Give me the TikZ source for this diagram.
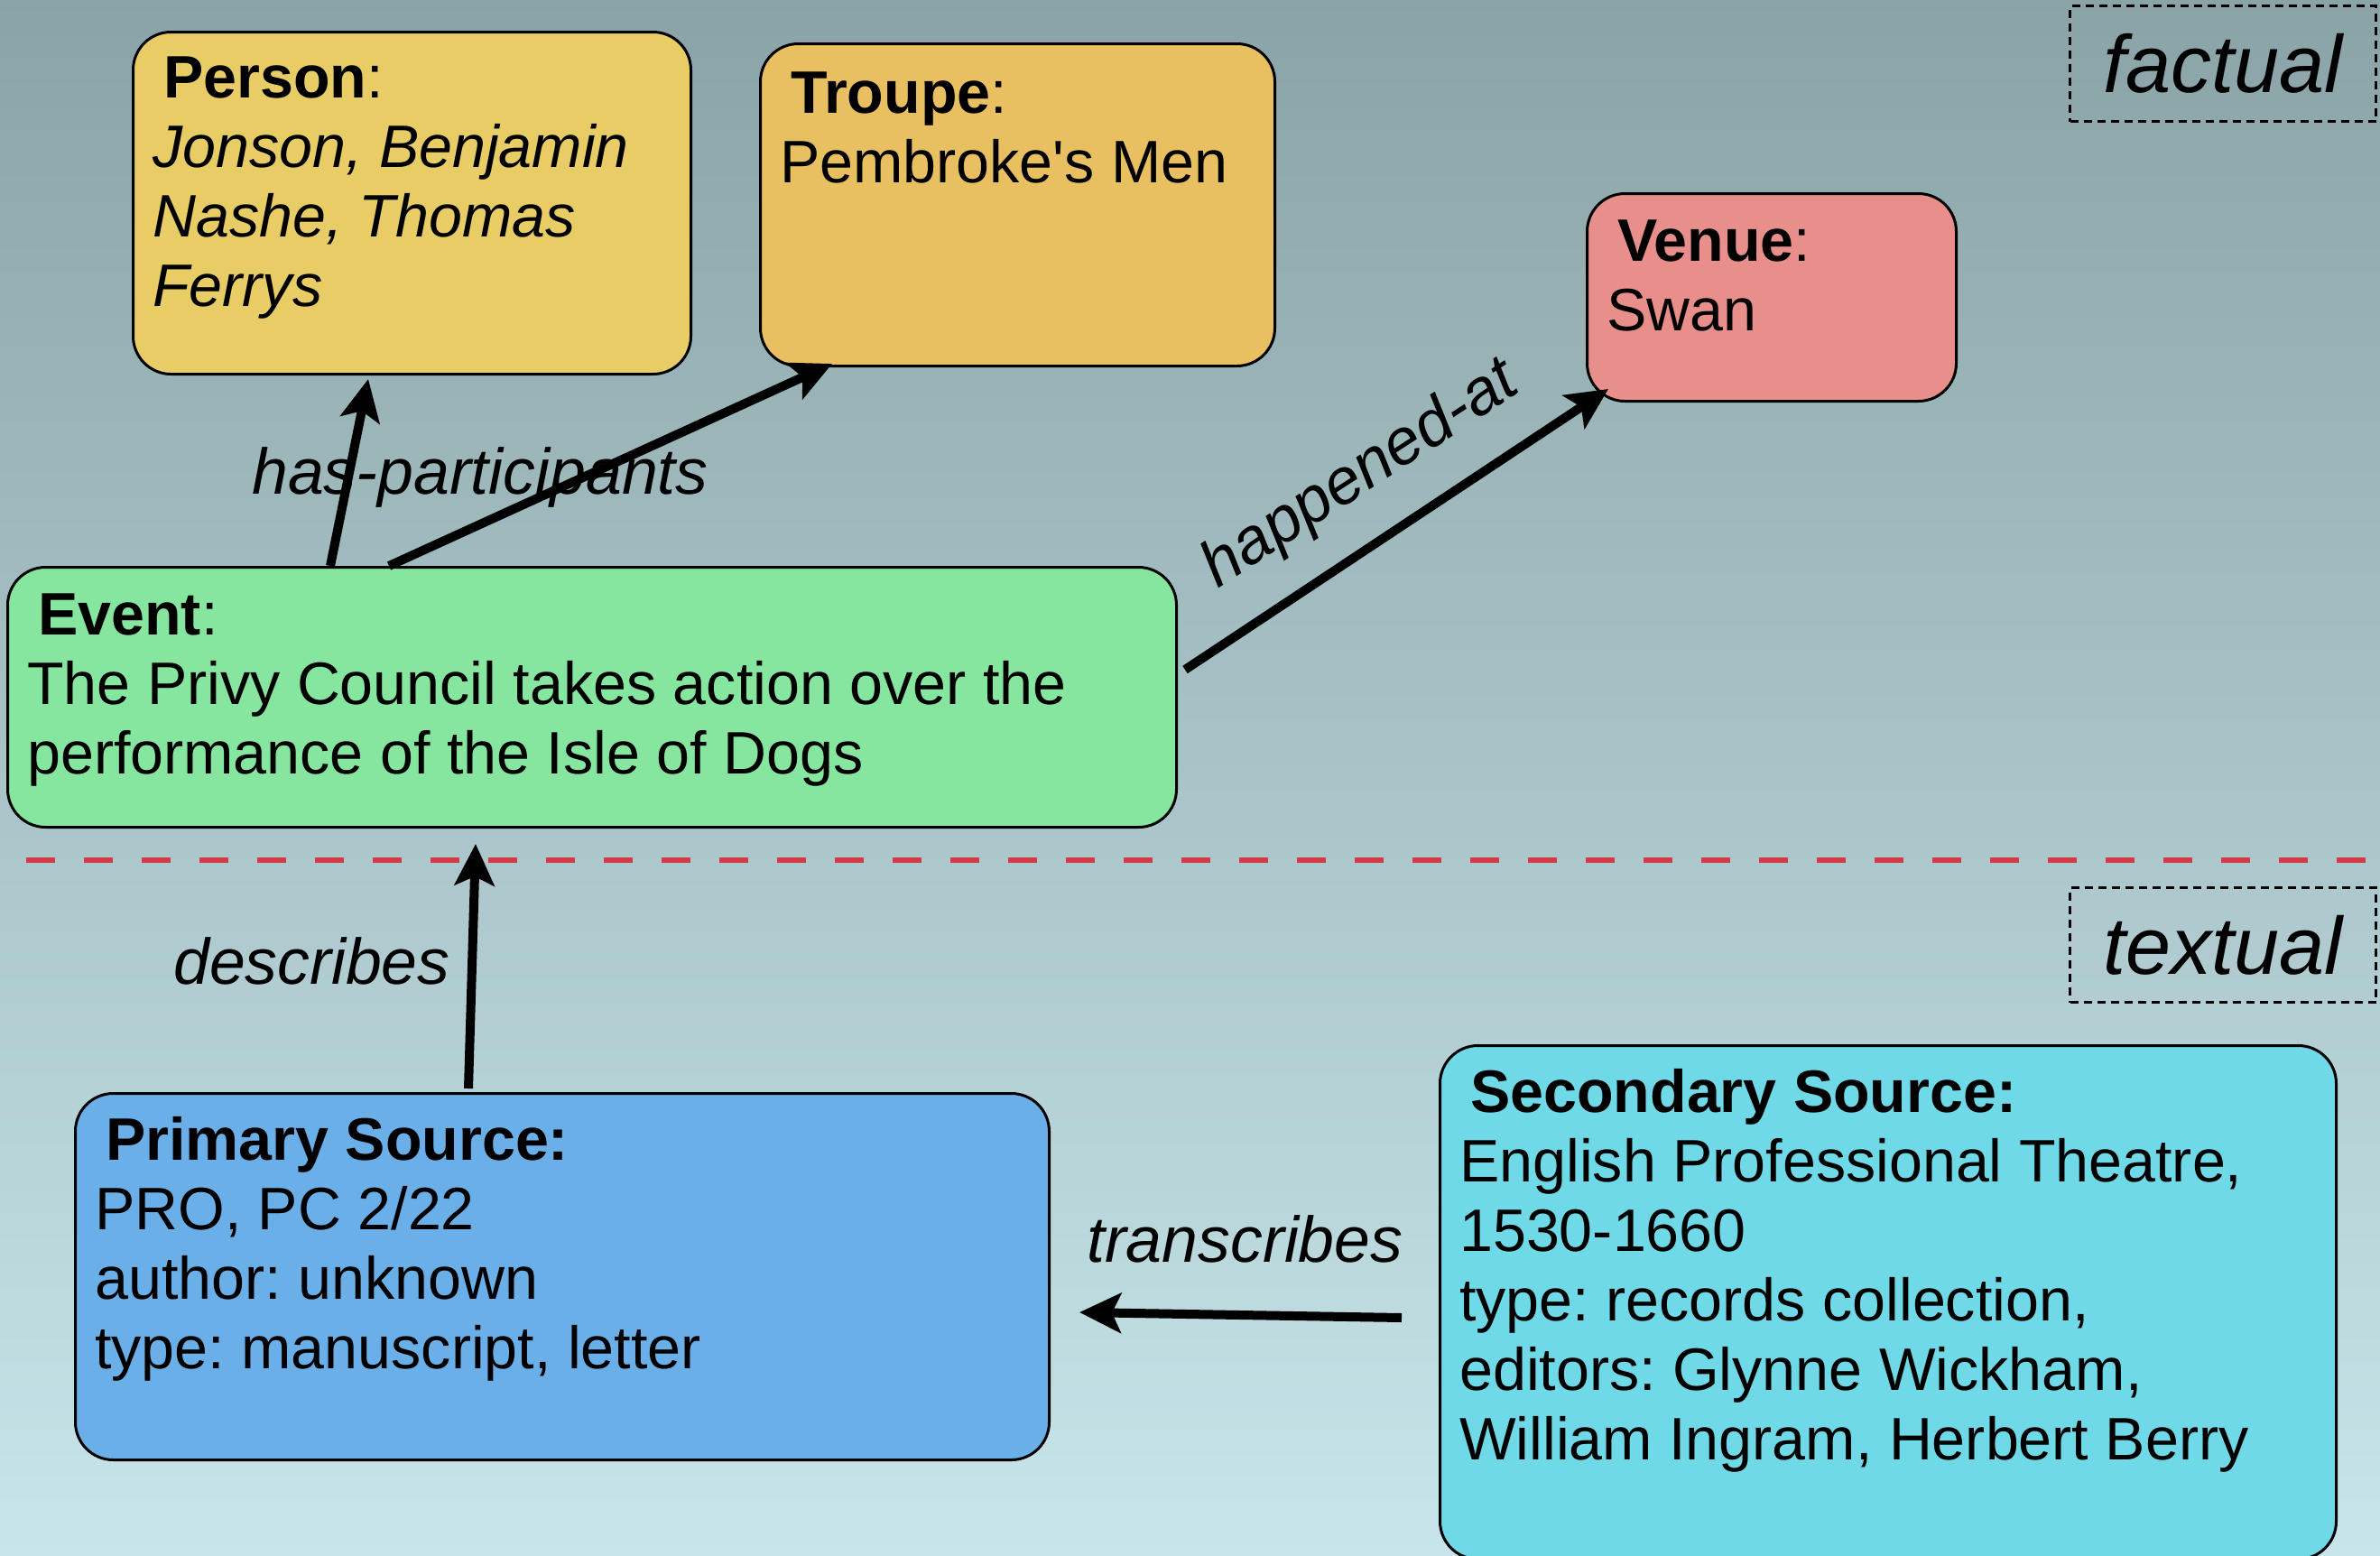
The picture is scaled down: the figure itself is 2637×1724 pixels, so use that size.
\documentclass[tikz,border=0pt]{standalone}
\usepackage{fontspec}
\setmainfont{Liberation Sans}
\usetikzlibrary{arrows.meta,calc}
\frenchspacing
\newcommand{\straightquote}{\XeTeXglyph\XeTeXglyphindex "quotesingle"\relax}
\definecolor{bgtop}{HTML}{8AA3A6}
\definecolor{bgbot}{HTML}{C7E5EA}
\definecolor{personc}{HTML}{E8CD66}
\definecolor{troupec}{HTML}{E8C062}
\definecolor{venuec}{HTML}{E88F8B}
\definecolor{eventc}{HTML}{86E59E}
\definecolor{primc}{HTML}{6AAFE8}
\definecolor{secc}{HTML}{6FD9E8}
\definecolor{redline}{HTML}{D13A46}
\begin{document}
\begin{tikzpicture}[x=1pt,y=-1pt,
  box/.style={draw=black, line width=3pt, rounded corners=42pt, anchor=north west, inner sep=0pt},
  body/.style={anchor=base west, inner sep=0pt, font=\fontsize{66.4pt}{77pt}\selectfont\frenchspacing},
  lbl/.style={inner sep=0pt, font=\fontsize{71.6pt}{82pt}\selectfont\itshape},
  layer/.style={draw=black, line width=3pt, dash pattern=on 9pt off 6pt, anchor=north west, inner sep=0pt, font=\fontsize{90pt}{100pt}\selectfont\itshape},
  arr/.style={line width=10pt, -{Stealth[length=46pt,width=44pt,inset=10pt]}},
  sep/.style={draw=redline, line width=6.5pt, dash pattern=on 32pt off 32pt}]
\useasboundingbox (0,0) rectangle (2637,1724);
\shade[top color=bgtop, bottom color=bgbot] (0,0) rectangle (2637,1724);

% separator
\coordinate (sepL) at (29,953);
\coordinate (sepR) at (2637,953);
\draw[sep] (sepL) -- (sepR);

% layer labels
\node[layer, minimum width=339pt, minimum height=128pt] (factual) at (2292,5) {factual};
\node[layer, minimum width=339pt, minimum height=127pt] (textual) at (2292,982) {textual};

% boxes
\node[box, fill=personc, minimum width=618pt, minimum height=379pt] (person) at (146,34) {};
\node[box, fill=troupec, minimum width=570pt, minimum height=357pt] (troupe) at (841,47) {};
\node[box, fill=venuec, minimum width=409pt, minimum height=230pt] (venue) at (1757,213) {};
\node[box, fill=eventc, minimum width=1295pt, minimum height=288pt] (event) at (7,627) {};
\node[box, fill=primc, minimum width=1079pt, minimum height=406pt] (primary) at (82,1210) {};
\node[box, fill=secc, minimum width=993pt, minimum height=569pt] (secondary) at (1594,1157) {};

% box texts
\node[body] (persontext) at (169,108) {\vtop{\hbox{\kern12pt\textbf{Person}:}\hbox{\itshape Jonson, Benjamin}\hbox{\itshape Nashe, Thomas}\hbox{\itshape Ferrys}}};
\node[body] (troupetext) at (864,125) {\vtop{\hbox{\kern12pt\textbf{Troupe}:}\hbox{Pembroke\straightquote s Men}}};
\node[body] (venuetext) at (1780,289) {\vtop{\hbox{\kern12pt\textbf{Venue}:}\hbox{Swan}}};
\node[body] (eventtext) at (30,703) {\vtop{\hbox{\kern12pt\textbf{Event}:}\hbox{The Privy Council takes action over the}\hbox{performance of the Isle of Dogs}}};
\node[body] (primtext) at (105,1285) {\vtop{\hbox{\kern12pt\textbf{Primary Source:}}\hbox{PRO, PC 2/22}\hbox{author: unknown}\hbox{type: manuscript, letter}}};
\node[body] (sectext) at (1617,1232) {\vtop{\hbox{\kern12pt\textbf{Secondary Source:}}\hbox{English Professional Theatre,}\hbox{1530-1660}\hbox{type: records collection,}\hbox{editors: Glynne Wickham,}\hbox{William Ingram, Herbert Berry}}};

% connectors
\draw[arr] ($(event.north west)+(359,0)$) -- ($(person.south west)+(262,4)$);
\draw[arr] ($(event.north west)+(424,0)$) -- ($(troupe.south west)+(81,-4)$);
\draw[arr] ($(event.north east)+(8,115)$) -- ($(venue.south west)+(25,-15)$);
\draw[arr] ($(primary.north west)+(437,-4)$) -- ($(event.south west)+(520,17)$);
\draw[arr] ($(secondary.north west)+(-41,303)$) -- ($(primary.north east)+(32,244)$);

% connector labels
\node[lbl, anchor=base west] (lblpart) at (279,547) {has-participants};
\node[lbl, rotate=33] (lblhap) at (1508,527) {happened-at};
\node[lbl, anchor=base west] (lbldesc) at (192,1090) {describes};
\node[lbl, anchor=base west] (lbltrans) at (1204,1398) {transcribes};
\end{tikzpicture}
\end{document}
